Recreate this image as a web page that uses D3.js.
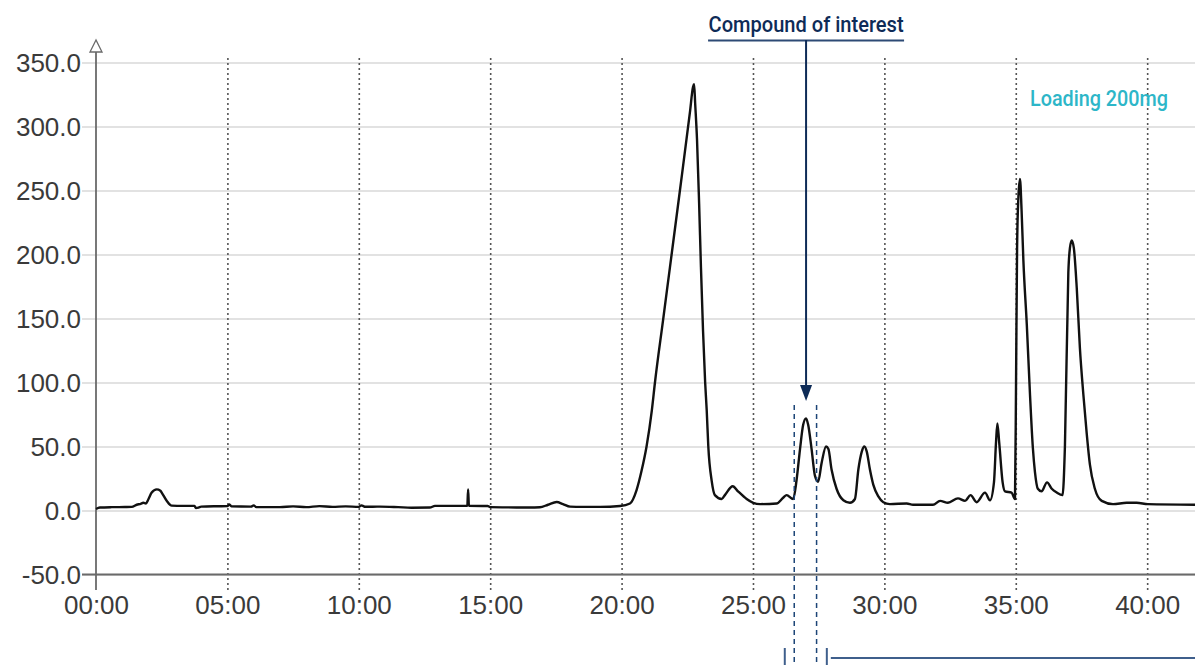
<!DOCTYPE html>
<html>
<head>
<meta charset="utf-8">
<script src="https://cdn.jsdelivr.net/npm/d3@7"></script>
<style>
  html, body { margin: 0; padding: 0; background: #fff; }
  svg { display: block; }
</style>
</head>
<body>
<svg id="chart" width="1195" height="665"></svg>
<script>
// ---- data (time in minutes, signal) ----
const timeMin = [
  0.00, 0.15, 0.60, 1.10, 1.36, 1.55, 1.70, 1.80, 1.90, 1.99, 2.12, 2.31, 2.45, 2.50, 2.69, 2.88,
  3.30, 3.75, 3.80, 3.90, 4.00, 4.60, 5.00, 5.08, 5.15, 5.90, 6.00, 6.10, 7.00, 7.50, 8.00, 8.50,
  9.00, 9.50, 10.00, 10.10, 10.25, 10.80, 11.50, 12.00, 12.70, 12.90, 14.13, 14.16, 14.19, 14.90,
  15.00, 16.00, 16.50, 16.89, 17.20, 17.53, 17.77, 18.04, 18.50, 19.18, 19.94, 20.32, 20.57, 20.76,
  20.95, 21.15, 21.27, 21.58, 21.84, 22.22, 22.60, 22.72, 22.76, 22.80, 22.87, 22.95, 23.02, 23.10,
  23.18, 23.24, 23.30, 23.43, 23.55, 23.81, 23.93, 24.23, 24.43, 24.76, 25.01, 25.27, 25.90, 26.15,
  26.28, 26.53, 26.66, 26.79, 26.91, 27.02, 27.10, 27.23, 27.36, 27.48, 27.61, 27.78, 27.87, 27.99,
  28.18, 28.44, 28.69, 28.88, 29.01, 29.14, 29.24, 29.33, 29.45, 29.58, 29.77, 29.96, 30.21, 30.85,
  31.09, 31.85, 32.12, 32.42, 32.80, 33.07, 33.28, 33.51, 33.83, 34.02, 34.17, 34.25, 34.30, 34.37,
  34.50, 34.59, 34.84, 34.97, 35.01, 35.05, 35.10, 35.16, 35.22, 35.29, 35.42, 35.54, 35.65, 35.73,
  35.84, 35.98, 36.19, 36.37, 36.56, 36.78, 36.87, 37.00, 37.06, 37.13, 37.21, 37.32, 37.44, 37.57,
  37.70, 37.82, 38.01, 38.27, 38.70, 39.22, 39.60, 40.03, 41.82
];
const signal = [
  1.2, 2.3, 2.6, 2.7, 2.8, 4.5, 5.2, 6.0, 5.5, 8.6, 14.0, 16.5, 15.5, 14.0, 7.6, 3.8,
  3.6, 3.6, 2.0, 2.3, 3.0, 3.3, 3.4, 4.8, 3.3, 3.0, 4.0, 2.6, 2.6, 3.2, 2.6, 3.4,
  2.8, 3.2, 2.8, 4.0, 2.9, 3.0, 2.6, 2.2, 2.3, 3.6, 3.6, 16.5, 3.6, 3.5,
  2.6, 2.4, 2.3, 2.5, 4.5, 6.6, 5.0, 3.0, 2.8, 2.8, 3.5, 5.5, 16, 31,
  50, 78, 100, 149, 190, 250, 311, 331, 333, 318, 290, 240, 190, 140,
  100, 78, 50, 23, 12, 9, 12, 19, 15, 9, 6, 5, 5.5, 10,
  12, 9, 24, 48, 67, 72, 67, 48, 27, 22.5, 37, 50, 48, 32,
  17, 8, 6, 9, 32, 46, 50, 46, 32, 20, 11, 6.5, 5, 5.5,
  4.5, 4.5, 7.5, 6, 9.5, 7.5, 12, 6.5, 14, 8, 22, 54, 68, 53,
  22, 15, 14, 9, 100, 205, 245, 259, 235, 195, 145, 91, 49, 30,
  17, 15, 22, 17, 14, 12, 50, 186, 205, 211, 205, 174, 127, 91,
  60, 36, 17, 7.5, 5, 6, 6, 5, 4.5
];
const yTicks = [-50, 0, 50, 100, 150, 200, 250, 300, 350];
const xTicks = [0, 5, 10, 15, 20, 25, 30, 35, 40];
const xTickLabels = ["00:00", "05:00", "10:00", "15:00", "20:00", "25:00", "30:00", "35:00", "40:00"];
const compoundLabel = "Compound of interest";
const compoundTime = 27.02;          // apex of compound peak
const compoundWindow = [26.57, 27.42]; // collected fraction window
const bracketTimes = [26.21, 27.81];
const loadingLabel = "Loading 200mg";

// ---- layout ----
const svg = d3.select("#chart");
const x = d3.scaleLinear().domain([0, 41.82]).range([96, 1195]);
const y = d3.scaleLinear().domain([-50, 350]).range([574.5, 62.5]);
const data = timeMin.map((t, i) => ({ t, v: signal[i] }));

// horizontal gridlines (with left stub) via axis
const yGrid = d3.axisLeft(y).tickValues(yTicks).tickSize(-(1195 - 82)).tickFormat("");
svg.append("g").attr("transform", "translate(82,0)").call(yGrid)
  .call(g => g.select(".domain").remove())
  .call(g => g.selectAll("line").attr("stroke", "#d9d9d9").attr("stroke-width", 1.6));

// vertical dotted gridlines via axis
const xGrid = d3.axisBottom(x).tickValues(xTicks.filter(d => d > 0)).tickSize(-(590 - 57)).tickFormat("");
svg.append("g").attr("transform", "translate(0,590)").call(xGrid)
  .call(g => g.select(".domain").remove())
  .call(g => g.selectAll("line").attr("stroke", "#555").attr("stroke-width", 1.6).attr("stroke-dasharray", "2,3"));

// x axis line at -50
svg.append("line").attr("x1", 82).attr("x2", 1195).attr("y1", y(-50)).attr("y2", y(-50))
  .attr("stroke", "#6a6a6a").attr("stroke-width", 1.8);

// y axis line with open arrow
svg.append("line").attr("x1", x(0)).attr("x2", x(0)).attr("y1", 52).attr("y2", 590)
  .attr("stroke", "#6a6a6a").attr("stroke-width", 1.8);
svg.append("path").attr("d", `M${x(0)},40 L${x(0) - 6},52 L${x(0) + 6},52 Z`)
  .attr("fill", "#fff").attr("stroke", "#6a6a6a").attr("stroke-width", 1.3);

// y tick labels via axis
const yAxis = d3.axisLeft(y).tickValues(yTicks).tickSize(0).tickPadding(0).tickFormat(d => d.toFixed(1));
svg.append("g").attr("transform", "translate(81,0)").call(yAxis)
  .call(g => g.select(".domain").remove())
  .call(g => g.selectAll("text").attr("font-family", "Liberation Sans, Arial, sans-serif")
    .attr("font-size", 26).attr("fill", "#3a3a3a").attr("dy", "0.36em"));

// x tick labels via axis
const xAxis = d3.axisBottom(x).tickValues(xTicks).tickSize(0).tickPadding(0).tickFormat((d, i) => xTickLabels[i]);
svg.append("g").attr("transform", "translate(0,596)").call(xAxis)
  .call(g => g.select(".domain").remove())
  .call(g => g.selectAll("text").attr("font-family", "Liberation Sans, Arial, sans-serif")
    .attr("font-size", 26).attr("fill", "#3a3a3a").attr("dy", "0.7em"));

// chromatogram
const line = d3.line().x(d => x(d.t)).y(d => y(d.v)).curve(d3.curveMonotoneX);
svg.append("path").datum(data).attr("d", line)
  .attr("fill", "none").attr("stroke", "#111").attr("stroke-width", 2.4).attr("stroke-linejoin", "round");

// fraction dashed lines
const navy = "#1d4577";
svg.selectAll(".frac").data(compoundWindow).enter().append("line")
  .attr("x1", d => x(d)).attr("x2", d => x(d)).attr("y1", 405).attr("y2", 665)
  .attr("stroke", navy).attr("stroke-width", 1.5).attr("stroke-dasharray", "5,4");

// compound annotation
const cx = x(compoundTime);
svg.append("text").attr("x", cx).attr("y", 32).attr("text-anchor", "middle")
  .attr("font-family", "Roboto, sans-serif").attr("font-weight", 500).attr("font-size", 22)
  .attr("textLength", 195).attr("lengthAdjust", "spacingAndGlyphs")
  .attr("fill", "#0e2b57").text(compoundLabel);
svg.append("line").attr("x1", cx - 98).attr("x2", cx + 98).attr("y1", 40.5).attr("y2", 40.5)
  .attr("stroke", "#2d4a75").attr("stroke-width", 2);
svg.append("line").attr("x1", cx).attr("x2", cx).attr("y1", 40).attr("y2", 388)
  .attr("stroke", "#0e2b57").attr("stroke-width", 2);
svg.append("path").attr("d", `M${cx - 6},385 L${cx + 6},385 L${cx},401 Z`).attr("fill", "#0e2b57");

// bottom bracket
const bc = "#3f5f8c";
svg.selectAll(".brk").data(bracketTimes).enter().append("line")
  .attr("x1", d => x(d)).attr("x2", d => x(d)).attr("y1", 648).attr("y2", 665)
  .attr("stroke", bc).attr("stroke-width", 2);
svg.append("line").attr("x1", x(bracketTimes[1]) + 4).attr("x2", 1195).attr("y1", 658).attr("y2", 658)
  .attr("stroke", bc).attr("stroke-width", 2);

// loading label
svg.append("text").attr("x", 1030).attr("y", 106)
  .attr("font-family", "Roboto, sans-serif").attr("font-weight", 500).attr("font-size", 22)
  .attr("textLength", 138).attr("lengthAdjust", "spacingAndGlyphs")
  .attr("fill", "#2db6c8").text(loadingLabel);
</script>
</body>
</html>
